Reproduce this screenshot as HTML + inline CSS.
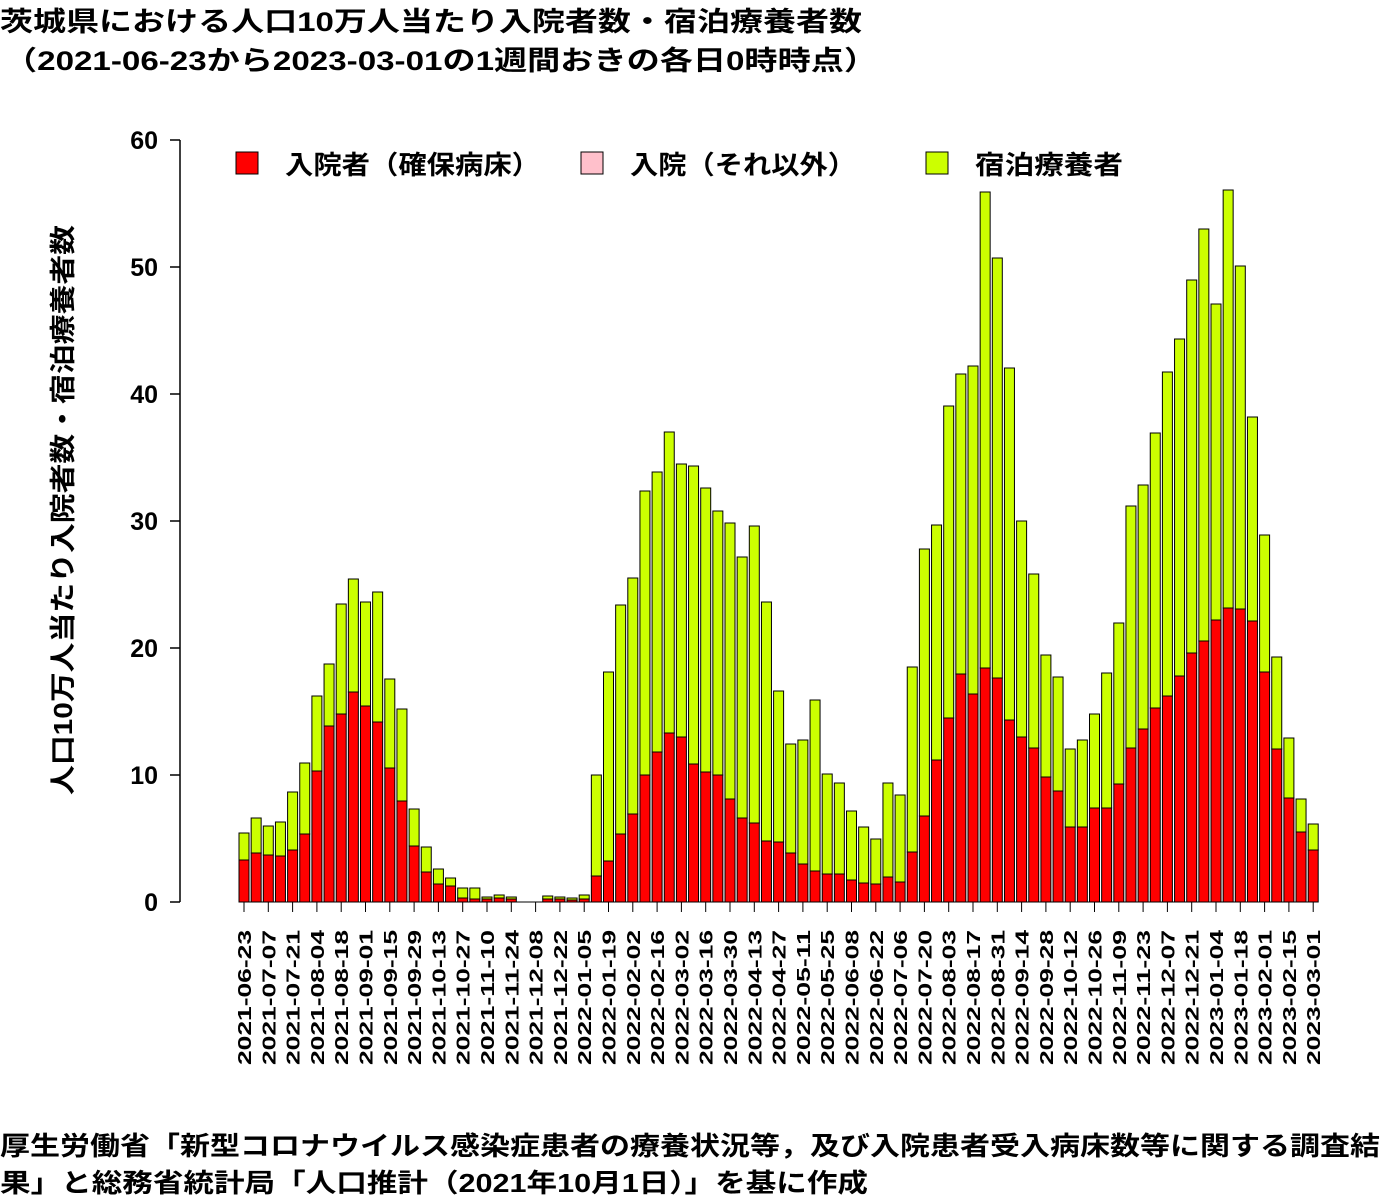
<!DOCTYPE html>
<html><head><meta charset="utf-8"><style>
body{margin:0;background:#fff;width:1400px;height:1200px;overflow:hidden}
svg{display:block}
text{font-family:"Liberation Sans","Noto Sans CJK JP",sans-serif;font-weight:bold;fill:#000}
</style></head><body>
<svg id="s" width="1400" height="1200" xmlns="http://www.w3.org/2000/svg">
<text x="0" y="31" font-size="27" textLength="862" lengthAdjust="spacingAndGlyphs">茨城県における人口10万人当たり入院者数・宿泊療養者数</text>
<text x="4" y="70" font-size="27" textLength="873" lengthAdjust="spacingAndGlyphs">（2021-06-23から2023-03-01の1週間おきの各日0時時点）</text>
<line x1="180" y1="140" x2="180" y2="902" stroke="#000" stroke-width="1.5"/>
<g font-size="25" text-anchor="end">
<text x="158" y="911">0</text><text x="158" y="784">10</text><text x="158" y="657">20</text>
<text x="158" y="530">30</text><text x="158" y="403">40</text><text x="158" y="276">50</text><text x="158" y="149">60</text>
</g>
<text transform="translate(72,795) rotate(-90)" font-size="26" textLength="570" lengthAdjust="spacingAndGlyphs">人口10万人当たり入院者数・宿泊療養者数</text>
<rect x="236" y="152" width="22" height="22" fill="#f00" stroke="#000"/>
<text x="285" y="174" font-size="26" textLength="255" lengthAdjust="spacingAndGlyphs">入院者（確保病床）</text>
<rect x="581" y="152" width="22" height="22" fill="#ffc0cb" stroke="#000"/>
<text x="630" y="174" font-size="26" textLength="226" lengthAdjust="spacingAndGlyphs">入院（それ以外）</text>
<rect x="926" y="152" width="22" height="22" fill="#ccff00" stroke="#000"/>
<text x="975" y="174" font-size="26" textLength="148" lengthAdjust="spacingAndGlyphs">宿泊療養者</text>
<text x="0" y="1155" font-size="26" textLength="1380" lengthAdjust="spacingAndGlyphs">厚生労働省「新型コロナウイルス感染症患者の療養状況等，及び入院患者受入病床数等に関する調査結</text>
<text x="0" y="1192" font-size="26" textLength="868" lengthAdjust="spacingAndGlyphs">果」と総務省統計局「人口推計（2021年10月1日）」を基に作成</text>
<g id="bars"></g>
</svg>
<script>
var d=[[833,860],[818,853],[826,855],[822,856],[792,850],[763,834],[696,771],[664,726],[604,714],[579,692],[602,706],[592,722],[679,768],[709,801],[809,846],[847,872],[869,884],[878,886],[888,898],[888,899],[897,899],[895,898],[897,899],[902,902],[902,902],[896,899],[897,899],[898,900],[895,899],[775,876],[672,861],[605,834],[578,814],[491,775],[472,752],[432,733],[464,737],[466,764],[488,772],[511,775],[523,799],[557,818],[526,823],[602,841],[691,842],[744,853],[740,864],[700,871],[774,874],[783,874],[811,880],[827,883],[839,884],[783,877],[795,882],[667,852],[549,816],[525,760],[406,718],[374,674],[366,694],[192,668],[258,678],[368,720],[521,737],[574,748],[655,777],[677,791],[749,827],[740,827],[714,808],[673,808],[623,784],[506,748],[485,729],[433,708],[372,696],[339,676],[280,653],[229,641],[304,620],[190,608],[266,609],[417,621],[535,672],[657,749],[738,798],[799,832],[824,850]];
var h='',B=902,st=12.15;
var base=new Date(Date.UTC(2021,5,23));
for(var i=0;i<d.length;i++){
 var x=244+st*i, l=x-5;
 if(d[i][0]<B){
  h+='<rect x="'+l+'" y="'+d[i][1]+'" width="10" height="'+(B-d[i][1])+'" fill="#f00" stroke="#000" stroke-width="1"/>';
  h+='<rect x="'+l+'" y="'+d[i][0]+'" width="10" height="'+(d[i][1]-d[i][0])+'" fill="#ccff00" stroke="#000" stroke-width="1"/>';
 }
 if(i%2==0){
  var dt=new Date(base.getTime()+i*7*864e5).toISOString().slice(0,10);
  h+='<line x1="'+x+'" y1="902" x2="'+x+'" y2="912" stroke="#000"/>';
  h+='<text transform="translate('+(x+7)+',1065) rotate(-90)" font-size="18" textLength="135" lengthAdjust="spacingAndGlyphs">'+dt+'</text>';
 }
}
h+='<line x1="244" y1="902" x2="'+(244+st*88)+'" y2="902" stroke="#000"/>';
document.getElementById('bars').innerHTML=h;
var t='';[0,10,20,30,40,50,60].forEach(function(v){var y=902-v*12.7;t+='<line x1="170" y1="'+y+'" x2="180" y2="'+y+'" stroke="#000" stroke-width="1.5"/>';});
document.getElementById('bars').insertAdjacentHTML('beforeend',t);
</script>
</body></html>
